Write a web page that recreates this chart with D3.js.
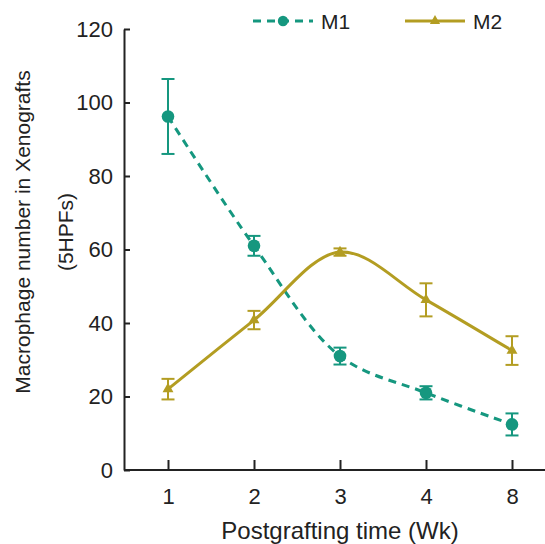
<!DOCTYPE html>
<html>
<head>
<meta charset="utf-8">
<script src="https://cdn.jsdelivr.net/npm/d3@7"></script>
<style>
  body { margin: 0; background: #fff; }
  text { font-family: "Liberation Sans", Arial, sans-serif; fill: #222; }
</style>
</head>
<body>
<div id="chart"></div>
<script>
const weeks = ['1', '2', '3', '4', '8'];
const m1_mean = [96.2, 61, 31, 21, 12.4];
const m1_err = [10.2, 2.7, 2.3, 1.8, 3];
const m2_mean = [22, 40.8, 59.3, 46.3, 32.5];
const m2_err = [2.8, 2.5, 1, 4.5, 3.9];
const y_ticks = [0, 20, 40, 60, 80, 100, 120];

const chart_width = 545;
const chart_height = 544;
const teal = '#15977f';
const olive = '#b39d22';

const svg = d3.select('#chart')
    .append('svg')
    .attr('width', chart_width)
    .attr('height', chart_height);

// Scales
const x_scale = d3.scalePoint()
    .domain(weeks)
    .range([168, 512]);

const y_scale = d3.scaleLinear()
    .domain([0, 120])
    .range([470, 29]);

// Axes (ticks point inward)
const x_axis = d3.axisBottom(x_scale)
    .tickSizeInner(-10)
    .tickSizeOuter(0)
    .tickPadding(18);
const gx = svg.append('g')
    .attr('transform', 'translate(0, 470)')
    .call(x_axis);
gx.select('.domain').attr('d', 'M124,0H545');

const y_axis = d3.axisLeft(y_scale)
    .tickValues(y_ticks)
    .tickSizeInner(-6)
    .tickSizeOuter(0)
    .tickPadding(11);
const gy = svg.append('g')
    .attr('transform', 'translate(124, 0)')
    .call(y_axis);

svg.selectAll('.domain').attr('stroke', '#222').attr('stroke-width', 2);
svg.selectAll('.tick line').attr('stroke', '#222').attr('stroke-width', 2);
svg.selectAll('.tick text').attr('font-size', 22).attr('fill', '#222')
    .attr('font-family', '"Liberation Sans", Arial, sans-serif');

// Axis titles
svg.append('text')
    .attr('x', 340)
    .attr('y', 539)
    .attr('text-anchor', 'middle')
    .attr('font-size', 24)
    .text('Postgrafting time (Wk)');

const ytitle = svg.append('text')
    .attr('transform', 'translate(25, 232) rotate(-90)')
    .attr('text-anchor', 'middle')
    .attr('font-size', 21);
ytitle.append('tspan').attr('x', 0).attr('dy', 5).text('Macrophage number in Xenografts');
ytitle.append('tspan').attr('x', 0).attr('dy', 43).text('(5HPFs)');

// Series
const series = [
    { name: 'M1', mean: m1_mean, err: m1_err, color: teal, dash: '8,6', shape: d3.symbolCircle, size: 125 },
    { name: 'M2', mean: m2_mean, err: m2_err, color: olive, dash: null, shape: d3.symbolTriangle, size: 52 },
];

const line = d3.line()
    .x((d, i) => x_scale(weeks[i]))
    .y(d => y_scale(d))
    .curve(d3.curveCatmullRom.alpha(0.5));

series.forEach(s => {
    const g = svg.append('g');

    g.append('path')
        .attr('d', line(s.mean))
        .attr('fill', 'none')
        .attr('stroke', s.color)
        .attr('stroke-width', 3)
        .attr('stroke-dasharray', s.dash);

    // Error bars
    const eb = g.selectAll('.eb')
        .data(s.mean)
        .enter()
        .append('g');
    eb.append('line')
        .attr('x1', (d, i) => x_scale(weeks[i]))
        .attr('x2', (d, i) => x_scale(weeks[i]))
        .attr('y1', (d, i) => y_scale(d + s.err[i]))
        .attr('y2', (d, i) => y_scale(d - s.err[i]))
        .attr('stroke', s.color)
        .attr('stroke-width', 2);
    [1, -1].forEach(sign => {
        eb.append('line')
            .attr('x1', (d, i) => x_scale(weeks[i]) - 6.5)
            .attr('x2', (d, i) => x_scale(weeks[i]) + 6.5)
            .attr('y1', (d, i) => y_scale(d + sign * s.err[i]))
            .attr('y2', (d, i) => y_scale(d + sign * s.err[i]))
            .attr('stroke', s.color)
            .attr('stroke-width', 2);
    });

    // Markers
    g.selectAll('.mk')
        .data(s.mean)
        .enter()
        .append('path')
        .attr('d', d3.symbol().type(s.shape).size(s.size))
        .attr('transform', (d, i) => `translate(${x_scale(weeks[i])}, ${y_scale(d)})`)
        .attr('fill', s.color);
});

// Legend
const legend = [
    { x: 253, color: teal, dash: '8,6', shape: d3.symbolCircle, size: 85, label: 'M1' },
    { x: 405, color: olive, dash: null, shape: d3.symbolTriangle, size: 45, label: 'M2' },
];
legend.forEach(l => {
    const g = svg.append('g').attr('transform', `translate(${l.x}, 21)`);
    g.append('line')
        .attr('x1', 0).attr('x2', 60)
        .attr('stroke', l.color)
        .attr('stroke-width', 3)
        .attr('stroke-dasharray', l.dash);
    g.append('path')
        .attr('d', d3.symbol().type(l.shape).size(l.size))
        .attr('transform', 'translate(30, 0)')
        .attr('fill', l.color);
    g.append('text')
        .attr('x', 68)
        .attr('y', 7.5)
        .attr('font-size', 21)
        .text(l.label);
});
</script>
</body>
</html>
